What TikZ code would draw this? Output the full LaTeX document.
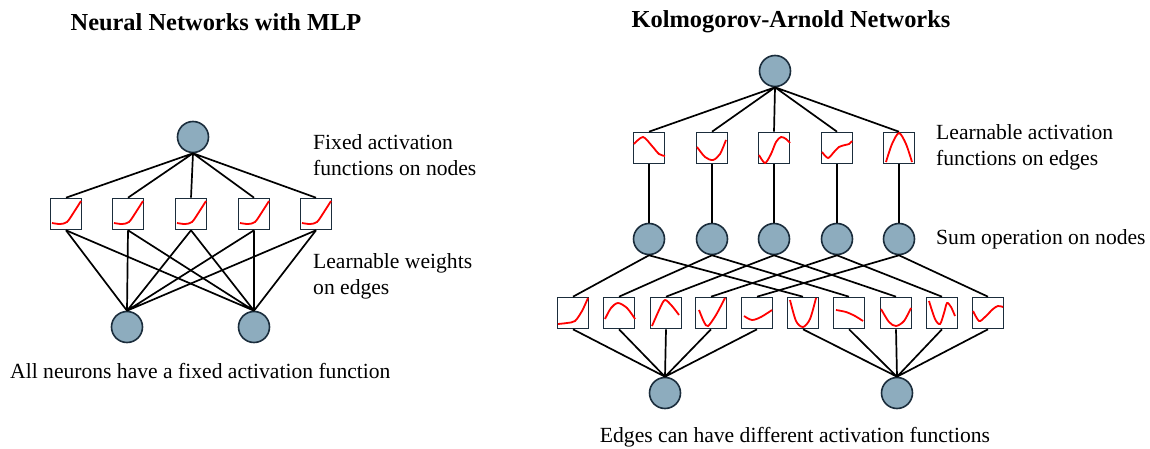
\documentclass[tikz,border=0pt]{standalone}
\usepackage{fontspec}
\setmainfont{Liberation Serif}
\definecolor{nodefill}{HTML}{8DACBE}
\definecolor{nodeline}{HTML}{1B2D3C}
\newcommand{\actcurve}[2]{\draw [act, shift={(#1.center)}] plot [smooth] coordinates {#2};}

\begin{document}
\begin{tikzpicture}[x=1pt, y=-1pt]
\tikzset{ neuron/.style={circle, fill=nodefill, draw=nodeline, line width=1.6pt, minimum size=31pt, inner sep=0pt},
  actbox/.style={rectangle, fill=white, draw=nodeline, line width=1.6pt, minimum size=31pt, inner sep=0pt},
  act/.style={red, line width=1.8pt},
  wire/.style={black, line width=1.7pt},
  note/.style={font=\fontsize{21.6}{26}\selectfont, align=left, inner sep=0pt},
  heading/.style={font=\fontsize{24.4}{28}\selectfont\bfseries, inner sep=0pt} }
\useasboundingbox (0,0) rectangle (1150,449);
%\draw [lightgray, dashed] (0,0) grid[step=50] (1150,449);

% MLP
\node [neuron] (Y) at (193,137) {};
\node [actbox] (F1) at (66,214) {};
\node [actbox] (F2) at (128,214) {};
\node [actbox] (F3) at (191,214) {};
\node [actbox] (F4) at (254,214) {};
\node [actbox] (F5) at (316,214) {};
\node [neuron] (X1) at (127,327) {};
\node [neuron] (X2) at (254,327) {};

\draw [wire] (Y.south) -- (F1.north) (Y.south) -- (F2.north) (Y.south) -- (F3.north) (Y.south) -- (F4.north) (Y.south) -- (F5.north);
\draw [wire] (F1.south) -- (X1.north) (F2.south) -- (X1.north) (F3.south) -- (X1.north) (F4.south) -- (X1.north) (F5.south) -- (X1.north);
\draw [wire] (F1.south) -- (X2.north) (F2.south) -- (X2.north) (F3.south) -- (X2.north) (F4.south) -- (X2.north) (F5.south) -- (X2.north);

\actcurve{F1}{(-14,9) (-6,10) (1,8) (8,-2) (15,-13)}
\actcurve{F2}{(-14,9) (-6,10) (1,8) (8,-2) (15,-13)}
\actcurve{F3}{(-14,9) (-6,10) (1,8) (8,-2) (15,-13)}
\actcurve{F4}{(-14,9) (-6,10) (1,8) (8,-2) (15,-13)}
\actcurve{F5}{(-14,9) (-6,10) (1,8) (8,-2) (15,-13)}

\node [heading] (T1) at (216,22) {Neural Networks with MLP};
\node [note, anchor=west] (N1) at (313,155) {Fixed activation\\functions on nodes};
\node [note, anchor=west] (N2) at (313,276) {Learnable weights\\on edges};
\node [note, anchor=west] (N3) at (10,371) {All neurons have a fixed activation function};

% KAN
\node [neuron] (KY) at (775,71) {};
\node [actbox] (P1) at (649,148) {};
\node [actbox] (P2) at (712,148) {};
\node [actbox] (P3) at (774,148) {};
\node [actbox] (P4) at (837,148) {};
\node [actbox] (P5) at (899,148) {};
\node [neuron] (S1) at (649,239) {};
\node [neuron] (S2) at (712,239) {};
\node [neuron] (S3) at (774,239) {};
\node [neuron] (S4) at (837,239) {};
\node [neuron] (S5) at (899,239) {};
\node [actbox] (Q1) at (573,313) {};
\node [actbox] (Q2) at (619,313) {};
\node [actbox] (Q3) at (666,313) {};
\node [actbox] (Q4) at (711,313) {};
\node [actbox] (Q5) at (757,313) {};
\node [actbox] (Q6) at (803,313) {};
\node [actbox] (Q7) at (849,313) {};
\node [actbox] (Q8) at (896,313) {};
\node [actbox] (Q9) at (942,313) {};
\node [actbox] (Q10) at (988,313) {};
\node [neuron] (KX1) at (665,393) {};
\node [neuron] (KX2) at (897,393) {};

\draw [wire] (KY.south) -- (P1.north) (KY.south) -- (P2.north) (KY.south) -- (P3.north) (KY.south) -- (P4.north) (KY.south) -- (P5.north);
\draw [wire] (P1) -- (S1) (P2) -- (S2) (P3) -- (S3) (P4) -- (S4) (P5) -- (S5);
\draw [wire] (S1.south) -- (Q1.north) (S2.south) -- (Q2.north) (S3.south) -- (Q3.north) (S4.south) -- (Q4.north) (S5.south) -- (Q5.north);
\draw [wire] (S1.south) -- (Q6.north) (S2.south) -- (Q7.north) (S3.south) -- (Q8.north) (S4.south) -- (Q9.north) (S5.south) -- (Q10.north);
\draw [wire] (Q1.south) -- (KX1.north) (Q2.south) -- (KX1.north) (Q3.south) -- (KX1.north) (Q4.south) -- (KX1.north) (Q5.south) -- (KX1.north);
\draw [wire] (Q6.south) -- (KX2.north) (Q7.south) -- (KX2.north) (Q8.south) -- (KX2.north) (Q9.south) -- (KX2.north) (Q10.south) -- (KX2.north);

\actcurve{P1}{(-15,-4) (-6,-11) (3,-2) (10,6) (16,8)}
\actcurve{P2}{(-15,-1) (-7,9) (1,12) (8,6) (14,-8)}
\actcurve{P3}{(-15,7) (-9,15) (-3,6) (2,-6) (7,-11) (12,-9) (16,-5)}
\actcurve{P4}{(-15,4) (-9,10) (-3,4) (2,-1) (8,-3) (12,-4) (15,-7)}
\actcurve{P5}{(-13,14) (-7,-4) (0,-15) (7,-4) (13,14)}

\actcurve{Q1}{(-15,11) (-6,10) (2,8) (9,-2) (15,-15)}
\actcurve{Q2}{(-14,6) (-8,-5) (-1,-10) (8,-5) (16,6)}
\actcurve{Q3}{(-14,13) (-6,-5) (-1,-13) (6,-7) (13,2)}
\actcurve{Q4}{(-12,-3) (-7,9) (-3,13) (5,2) (14,-15)}
\actcurve{Q5}{(-13,3) (-5,7) (4,4) (15,-3)}
\actcurve{Q6}{(-13,-13) (-7,8) (0,14) (7,6) (13,-15)}
\actcurve{Q7}{(-13,-3) (-3,-1) (6,3) (14,8)}
\actcurve{Q8}{(-15,-4) (-7,9) (0,13) (8,8) (15,-5)}
\actcurve{Q9}{(-13,-12) (-7,6) (-2,11) (2,0) (5,-10) (9,-6) (13,3)}
\actcurve{Q10}{(-15,-2) (-9,8) (-3,4) (5,-4) (10,-7) (15,-6)}

\node [heading] (T2) at (791,22) {Kolmogorov-Arnold Networks};
\node [note, anchor=west] (N4) at (936,147) {Learnable activation\\functions on edges};
\node [note, anchor=west] (N5) at (936,239) {Sum operation on nodes};
\node [note] (N6) at (795,437) {Edges can have different activation functions};

\end{tikzpicture}
\end{document}
